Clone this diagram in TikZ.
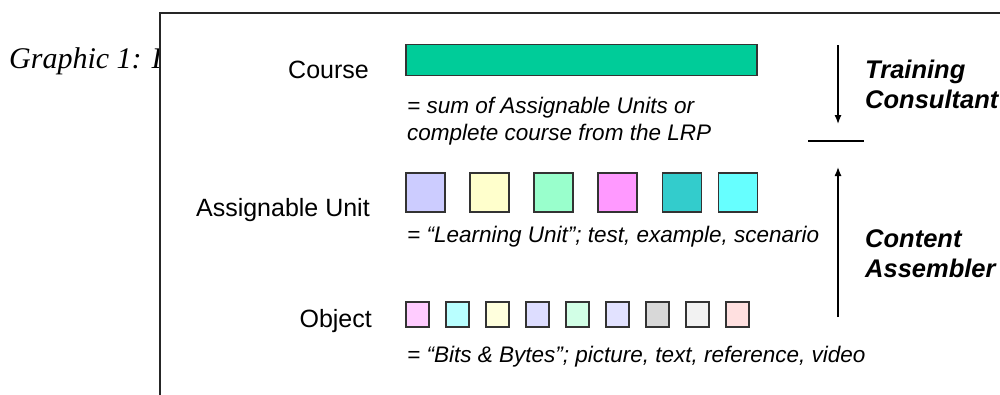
\documentclass[tikz,border=0pt]{standalone}
\usepackage{fontspec}
\setmainfont{Liberation Sans}
\newfontfamily\capfont{Liberation Serif}
\usetikzlibrary{arrows.meta}
\definecolor{coursegreen}{HTML}{00CC99}
\definecolor{edge}{HTML}{333333}
\tikzset{
  lbl/.style={anchor=base east, inner sep=0pt, font=\fontsize{25}{30}\selectfont},
  desc/.style={anchor=base west, inner sep=0pt, font=\fontsize{22.5}{26}\selectfont\itshape},
  role/.style={anchor=base west, inner sep=0pt, align=left, font=\fontsize{25.5}{30}\selectfont\bfseries\itshape},
  aubox/.style={draw=edge, line width=1.6pt, minimum width=39pt, minimum height=39pt, inner sep=0pt},
  obbox/.style={draw=edge, line width=1.6pt, minimum width=23pt, minimum height=25pt, inner sep=0pt},
  arr/.style={line width=1.3pt, -{Latex[length=9pt,width=7pt]}},
}
\begin{document}
\begin{tikzpicture}[x=1pt,y=-1pt]
\useasboundingbox (0,0) rectangle (1000,394);
\clip (0,0) rectangle (1000,394);
% caption (partly hidden behind the frame)
\node[anchor=base west, inner sep=0pt, font=\capfont\fontsize{30}{34}\selectfont\itshape] (cap) at (9,68) {Graphic 1: I};
\fill[white] (160,13) rectangle (1010,400);
\draw[line width=2pt, color=black!85] (160,400) -- (160,13) -- (1010,13);
% labels
\node[lbl] (lcourse) at (369,78) {Course};
\node[lbl] (lau) at (370,216) {Assignable Unit};
\node[lbl] (lobj) at (372,327) {Object};
% course bar
\node[draw=edge, line width=1.6pt, fill=coursegreen, minimum width=351pt, minimum height=31pt, inner sep=0pt] (bar) at (581.5,60) {};
\node[desc] (d1a) at (407,113) {= sum of Assignable Units or};
\node[desc] (d1b) at (407,140) {complete course from the LRP};
% assignable units
\node[aubox, fill={rgb,255:red,204;green,204;blue,255}] (au1) at (425.5,192.5) {};
\node[aubox, fill={rgb,255:red,255;green,255;blue,204}] (au2) at (489.5,192.5) {};
\node[aubox, fill={rgb,255:red,153;green,255;blue,204}] (au3) at (553.5,192.5) {};
\node[aubox, fill={rgb,255:red,255;green,153;blue,255}] (au4) at (617.5,192.5) {};
\node[aubox, fill={rgb,255:red,51;green,204;blue,204}] (au5) at (682,192.5) {};
\node[aubox, fill={rgb,255:red,102;green,255;blue,255}] (au6) at (738,192.5) {};
\node[desc] (d2) at (407,242) {= “Learning Unit”; test, example, scenario};
% objects
\node[obbox, fill={rgb,255:red,255;green,204;blue,255}] (o1) at (417.5,314.5) {};
\node[obbox, fill={rgb,255:red,185;green,255;blue,255}] (o2) at (457.5,314.5) {};
\node[obbox, fill={rgb,255:red,255;green,255;blue,221}] (o3) at (497.5,314.5) {};
\node[obbox, fill={rgb,255:red,221;green,221;blue,255}] (o4) at (537.5,314.5) {};
\node[obbox, fill={rgb,255:red,210;green,255;blue,230}] (o5) at (577.5,314.5) {};
\node[obbox, fill={rgb,255:red,226;green,226;blue,255}] (o6) at (617.5,314.5) {};
\node[obbox, fill={rgb,255:red,216;green,216;blue,216}] (o7) at (657.5,314.5) {};
\node[obbox, fill={rgb,255:red,242;green,242;blue,242}] (o8) at (697.5,314.5) {};
\node[obbox, fill={rgb,255:red,255;green,224;blue,224}] (o9) at (737.5,314.5) {};
\node[desc] (d3) at (407,362) {= “Bits \& Bytes”; picture, text, reference, video};
% arrows
\coordinate (tcTop) at (838,45);
\coordinate (tcTip) at (838,124);
\coordinate (sepL) at (808,141);
\coordinate (sepR) at (864,141);
\coordinate (caBot) at (838,317);
\coordinate (caTip) at (838,167);
\draw[arr] (tcTop) -- (tcTip);
\draw[line width=1.3pt] (sepL) -- (sepR);
\draw[arr] (caBot) -- (caTip);
\node[role] (tc) at (865,108) {Training\\Consultant};
\node[role] (ca) at (865,277) {Content\\Assembler};
\end{tikzpicture}
\end{document}
